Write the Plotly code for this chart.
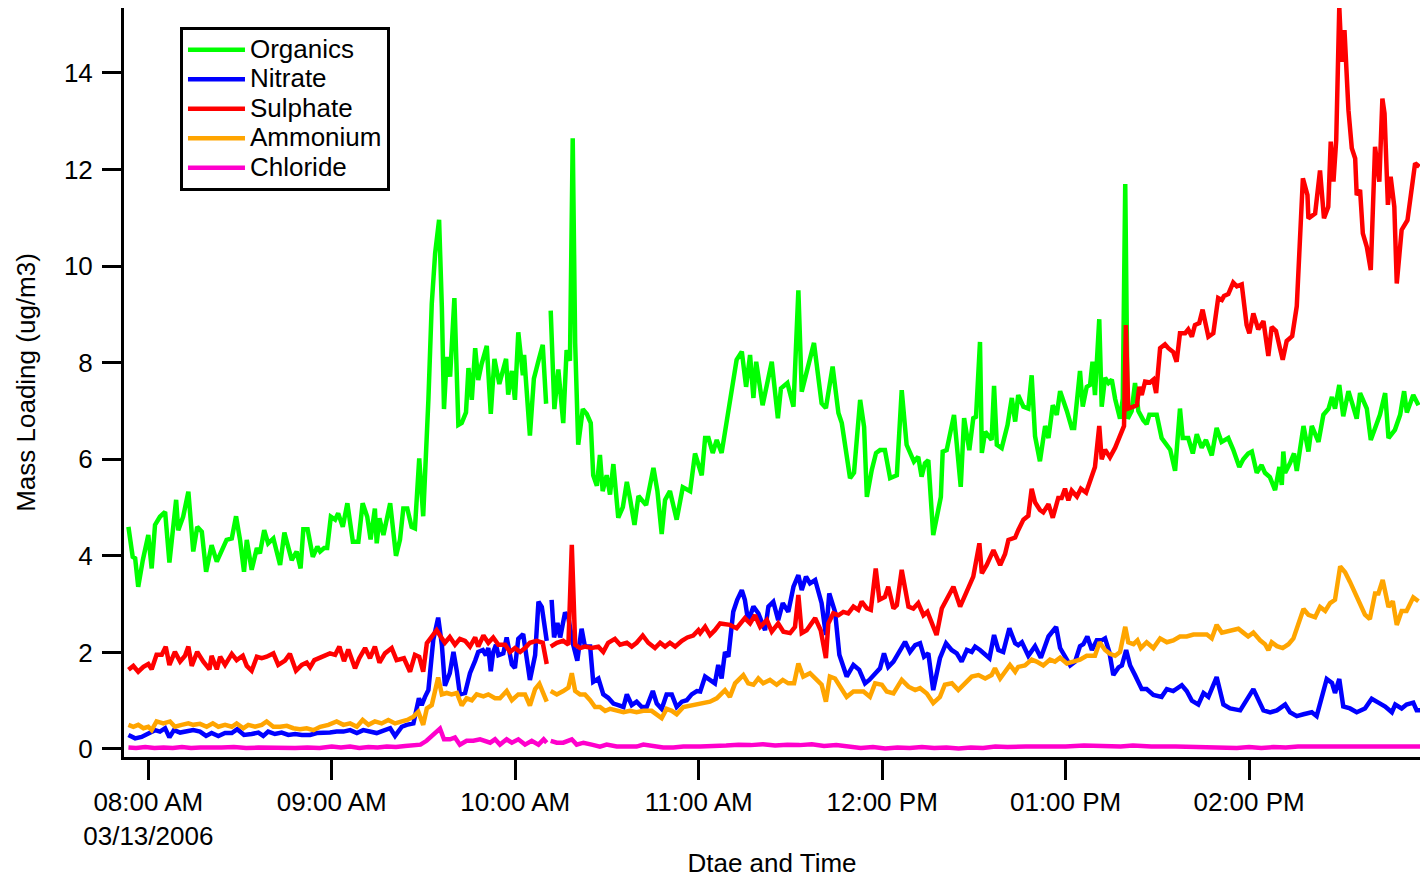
import pandas as pd
import plotly.graph_objects as go

# ---------------- data (time in minutes after 08:00 on 03/13/2006) ----------------
org_t = [
    -6.5, -5.1, -4.3, -3.3, -1.8, 0.0, 1.1, 2.2, 3.8, 5.5,
    6.9, 9.1, 9.8, 11.4, 13.1, 14.7, 16.0, 17.5, 18.9, 20.7,
    22.4, 23.5, 25.6, 27.3, 28.7, 30.0, 31.3, 32.2, 33.8, 35.5,
    36.5, 37.9, 39.2, 40.9, 43.1, 44.5, 46.9, 48.5, 49.8, 50.7,
    52.1, 53.8, 55.3, 56.2, 57.5, 58.5, 59.7, 61.1, 62.1, 63.6,
    65.1, 66.9, 68.7, 70.1, 71.6, 72.7, 74.1, 74.7, 75.6, 76.9,
    79.1, 81.0, 82.3, 83.4, 84.7, 86.1, 87.2, 88.6, 89.9, 91.6,
    92.7, 93.8, 95.1, 96.0, 96.7, 97.6, 98.7, 100.1, 101.4, 102.5,
    103.9, 104.7, 105.8, 106.9, 107.9, 109.0, 110.7, 112.0, 113.2, 114.8,
    117.0, 117.7, 118.9, 119.9, 121.0, 122.5, 122.9, 124.8, 126.1, 127.6,
    129.0, 130.1, 131.0, 131.6, 132.8, 134.1, 135.7, 136.8, 137.9, 138.8,
    139.6, 140.6, 142.1, 143.4, 144.7, 145.5, 146.7, 147.7, 148.6, 149.9,
    151.0, 152.1, 153.7, 155.2, 156.5, 157.5, 159.0, 160.3, 162.8, 165.2,
    166.5, 167.9, 169.0, 170.6, 172.8, 174.8, 177.2, 178.8, 181.0, 182.1,
    183.2, 184.6, 185.9, 187.5, 189.7, 192.4, 194.1, 195.5, 196.8, 197.9,
    198.8, 200.9, 203.9, 205.9, 206.9, 209.0, 211.0, 212.6, 213.7, 217.7,
    220.2, 221.6, 223.8, 225.7, 226.8, 229.5, 230.8, 232.8, 234.1, 235.0,
    236.6, 238.0, 239.3, 240.9, 242.6, 244.8, 246.4, 248.0, 250.4, 251.8,
    252.9, 254.0, 255.1, 256.7, 259.2, 259.8, 261.1, 263.5, 265.7, 266.8,
    268.5, 269.8, 270.7, 272.0, 272.6, 273.7, 275.8, 276.6, 277.5, 279.1,
    281.0, 282.4, 283.5, 284.5, 286.2, 287.8, 288.9, 290.0, 291.6, 293.3,
    294.4, 295.8, 297.1, 298.2, 300.4, 302.0, 302.8, 304.7, 305.6, 306.9,
    308.0, 308.8, 309.6, 311.0, 311.8, 312.9, 314.0, 315.1, 316.2, 317.8,
    318.7, 319.5, 320.3, 321.6, 322.7, 323.8, 325.4, 326.5, 327.4, 329.8,
    331.4, 333.1, 334.2, 335.8, 337.4, 338.3, 340.1, 341.6, 342.9, 344.5,
    345.9, 347.8, 349.4, 351.0, 353.2, 354.8, 356.8, 358.1, 359.7, 360.9,
    362.5, 364.1, 365.2, 366.8, 368.5, 369.9, 370.7, 371.2, 371.8, 373.4,
    374.7, 375.6, 377.8, 379.4, 380.5, 382.7, 384.3, 386.0, 387.1, 388.1,
    389.5, 390.8, 392.5, 393.9, 395.2, 396.3, 398.5, 399.8, 401.2, 402.8,
    404.5, 405.6, 407.7, 409.4, 410.7, 411.6, 413.7, 415.4]
org_v = [
    4.60, 3.98, 3.95, 3.36, 3.91, 4.43, 3.74, 4.64, 4.81, 4.91,
    3.86, 5.16, 4.53, 4.81, 5.33, 4.09, 4.60, 4.50, 3.67, 4.22,
    3.88, 4.05, 4.33, 4.36, 4.82, 4.33, 3.67, 4.33, 3.71, 4.16,
    4.05, 4.53, 4.26, 4.36, 3.81, 4.48, 3.91, 4.09, 3.74, 4.55,
    4.55, 3.98, 4.19, 4.09, 4.16, 4.16, 4.81, 4.75, 4.88, 4.60,
    5.09, 4.29, 4.29, 5.09, 4.81, 4.34, 4.98, 4.26, 4.78, 4.43,
    5.09, 4.00, 4.33, 4.98, 4.98, 4.60, 4.57, 6.02, 4.82, 7.23,
    9.22, 10.26, 10.96, 9.15, 7.04, 8.12, 7.71, 9.34, 6.71, 6.75,
    6.97, 7.89, 7.23, 8.30, 7.64, 7.97, 8.35, 6.94, 8.08, 7.56,
    8.08, 7.34, 7.83, 7.23, 8.63, 7.74, 8.16, 6.49, 7.67, 8.04,
    8.37, 7.15, None, 9.08, 7.04, 7.86, 6.75, 8.26, 8.04, 12.65,
    8.41, 6.30, 7.04, 6.94, 6.75, 5.67, 5.45, 6.09, 5.34, 5.67,
    5.27, 5.90, 4.79, 5.01, 5.53, 5.20, 4.64, 5.24, 5.05, 5.82,
    5.34, 4.45, 5.16, 5.34, 4.75, 5.42, 5.34, 6.12, 5.67, 6.44,
    6.44, 6.13, 6.40, 6.13, 6.96, 8.06, 8.23, 7.50, 8.16, 7.27,
    8.02, 7.12, 8.02, 6.85, 7.47, 7.58, 7.09, 9.50, 7.40, 8.41,
    7.16, 7.06, 7.92, 6.96, 6.75, 5.61, 5.72, 7.23, 6.67, 5.22,
    5.78, 6.13, 6.19, 6.19, 5.61, 5.67, 7.43, 6.30, 5.95, 6.05,
    5.64, 5.92, 5.98, 4.43, 5.22, 6.16, 6.19, 6.92, 5.43, 6.85,
    6.19, 6.85, 6.88, 8.43, 6.13, 6.57, 6.40, 7.52, 6.30, 6.23,
    6.71, 7.27, 6.78, 7.33, 7.09, 7.05, 7.74, 6.48, 5.96, 6.69,
    6.44, 7.12, 6.92, 7.41, 7.00, 6.65, 6.65, 7.83, 7.09, 7.50,
    7.54, 8.02, 7.33, 8.90, 7.09, 7.69, 7.58, 7.65, 7.25, 6.84,
    7.25, 11.70, 6.84, 7.00, 7.58, 7.00, 6.81, 6.73, 6.92, 6.92,
    6.44, 6.28, 6.20, 5.76, 7.05, 6.44, 6.44, 6.12, 6.52, 6.24,
    6.40, 6.08, 6.65, 6.36, 6.44, 6.20, 5.84, 6.00, 6.12, 6.16,
    5.72, 5.88, 5.72, 5.63, 5.36, 5.84, 5.47, 6.16, 5.72, 5.92,
    6.12, 5.76, 6.69, 6.16, 6.69, 6.36, 6.92, 7.05, 7.29, 7.05,
    7.54, 6.89, 7.41, 7.12, 6.84, 7.37, 7.05, 6.40, 6.65, 6.92,
    7.37, 6.44, 6.61, 6.92, 7.41, 6.97, 7.33, 7.12]

nit_t = [
    -6.5, -4.3, -2.2, 0.0, 2.2, 3.8, 5.5, 6.9, 8.4, 10.4,
    12.6, 14.7, 16.9, 18.9, 20.7, 22.9, 25.1, 27.3, 29.1, 31.3,
    33.8, 36.0, 37.6, 39.2, 41.4, 43.6, 45.8, 48.0, 50.2, 52.9,
    55.1, 57.2, 59.4, 61.6, 63.8, 66.0, 68.2, 70.3, 72.5, 74.7,
    76.9, 79.1, 80.7, 82.9, 84.5, 86.7, 88.5, 89.4, 90.5, 91.6,
    93.2, 94.8, 96.0, 97.0, 98.6, 99.8, 100.9, 101.9, 103.6, 105.2,
    106.9, 107.9, 109.4, 110.4, 111.2, 112.0, 112.8, 113.7, 114.5, 116.1,
    117.2, 118.9, 119.9, 121.0, 122.6, 123.8, 124.8, 126.5, 127.6, 128.7,
    130.3, 131.0, 131.9, 132.7, 133.8, 134.7, 136.3, 137.4, 138.8, 140.3,
    141.7, 142.8, 144.5, 145.5, 147.2, 148.8, 150.4, 152.1, 153.7, 155.4,
    156.5, 158.1, 159.7, 161.4, 163.0, 165.0, 166.3, 167.9, 169.5, 171.2,
    172.8, 174.5, 176.1, 177.7, 179.4, 180.5, 182.1, 183.7, 185.3, 186.4,
    187.5, 188.6, 189.7, 191.3, 192.6, 194.1, 195.1, 196.2, 197.9, 199.5,
    201.7, 202.8, 204.4, 206.0, 207.5, 209.3, 211.0, 212.6, 213.7, 215.1,
    216.4, 218.1, 220.2, 221.6, 222.7, 224.6, 226.0, 228.4, 230.6, 232.5,
    234.4, 235.8, 237.7, 239.3, 240.6, 242.0, 243.7, 245.9, 247.5, 249.1,
    250.8, 252.4, 253.7, 255.1, 256.7, 258.9, 260.9, 262.7, 264.4, 266.0,
    267.7, 269.3, 270.4, 272.0, 273.7, 275.1, 276.6, 278.0, 279.6, 281.6,
    283.5, 284.5, 285.7, 287.8, 290.0, 291.9, 294.4, 296.9, 298.2, 300.4,
    301.5, 303.1, 304.7, 305.8, 307.1, 308.6, 310.2, 311.8, 312.9, 314.3,
    315.6, 317.3, 318.4, 319.8, 321.1, 322.7, 324.9, 326.5, 328.7, 331.4,
    333.1, 335.2, 338.0, 339.6, 341.3, 343.4, 345.1, 346.7, 349.4, 351.6,
    353.8, 357.1, 359.3, 361.4, 364.7, 366.9, 369.1, 371.8, 373.4, 375.6,
    377.8, 380.5, 382.1, 383.8, 385.4, 387.1, 388.1, 389.5, 390.8, 393.0,
    395.2, 397.9, 400.1, 402.3, 404.5, 406.7, 407.8, 409.9, 411.5, 413.7,
    414.8, 415.9]
nit_v = [
    0.29, 0.22, 0.25, 0.33, 0.39, 0.36, 0.43, 0.24, 0.39, 0.34,
    0.36, 0.39, 0.36, 0.27, 0.33, 0.27, 0.33, 0.33, 0.41, 0.29,
    0.31, 0.34, 0.27, 0.36, 0.31, 0.34, 0.29, 0.31, 0.29, 0.29,
    0.33, 0.33, 0.34, 0.36, 0.36, 0.39, 0.33, 0.39, 0.36, 0.33,
    0.38, 0.43, 0.27, 0.46, 0.50, 0.53, 1.05, 0.91, 1.08, 1.22,
    2.26, 2.72, 2.16, 1.31, 1.57, 2.01, 1.61, 1.13, 1.16, 1.57,
    1.83, 2.01, 2.05, 1.94, 2.09, 1.61, 2.01, 2.16, 1.94, 1.98,
    2.31, 1.75, 1.68, 2.28, 2.38, 1.83, 1.43, 1.94, 3.05, 2.94,
    2.24, None, 3.09, 2.31, 2.61, 2.31, 2.83, 2.71, 2.20, 1.83,
    2.49, 2.12, 2.12, 1.39, 1.46, 1.13, 1.06, 0.94, 0.91, 0.87,
    1.13, 0.91, 0.98, 0.87, 0.87, 1.20, 0.94, 0.83, 1.13, 1.13,
    0.87, 0.98, 1.01, 1.13, 1.20, 1.19, 1.50, 1.43, 1.36, 1.74,
    1.46, 2.01, 1.91, 2.84, 3.09, 3.29, 3.09, 2.64, 2.95, 2.81,
    2.46, 2.95, 3.05, 2.67, 3.02, 2.84, 3.36, 3.60, 3.29, 3.57,
    3.43, 3.50, 3.02, 2.36, 3.22, 2.84, 1.95, 1.50, 1.74, 1.64,
    1.36, 1.43, 1.57, 1.67, 1.98, 1.70, 1.81, 2.05, 2.22, 2.01,
    2.15, 2.19, 1.91, 1.98, 1.22, 1.88, 2.19, 2.05, 1.98, 1.81,
    2.05, 2.01, 2.12, 2.05, 1.95, 1.88, 2.36, 2.05, 2.01, 2.50,
    2.19, 2.15, 2.21, 1.93, 2.13, 1.89, 2.33, 2.53, 2.09, 1.85,
    1.73, 1.81, 2.13, 2.17, 2.33, 2.05, 2.25, 2.25, 2.29, 2.01,
    1.53, 1.69, 1.73, 2.05, 1.73, 1.53, 1.24, 1.24, 1.12, 1.08,
    1.24, 1.20, 1.32, 1.20, 1.00, 0.92, 1.16, 1.08, 1.49, 0.92,
    0.84, 0.80, 1.04, 1.24, 0.80, 0.76, 0.80, 0.92, 0.76, 0.68,
    0.72, 0.76, 0.68, 1.12, 1.45, 1.37, 1.16, 1.45, 0.88, 0.84,
    0.76, 0.84, 1.04, 0.96, 0.88, 0.76, 0.92, 0.84, 0.92, 0.96,
    0.80, 0.80]

sul_t = [
    -6.5, -4.9, -3.3, -1.6, 0.0, 1.1, 2.7, 4.4, 5.7, 6.9,
    8.7, 10.4, 12.0, 13.1, 14.2, 16.0, 18.0, 20.0, 20.7, 22.4,
    23.5, 25.1, 27.3, 28.9, 30.9, 32.2, 33.8, 35.5, 37.1, 38.7,
    40.9, 42.5, 44.7, 46.3, 48.3, 50.2, 51.8, 52.9, 54.3, 55.9,
    57.2, 59.4, 61.1, 62.5, 64.0, 65.4, 67.6, 69.0, 70.9, 72.5,
    74.1, 75.6, 77.4, 79.6, 81.2, 83.6, 85.6, 87.2, 88.6, 89.9,
    91.1, 92.7, 94.3, 95.4, 97.0, 98.6, 100.3, 101.9, 103.6, 105.2,
    106.9, 107.9, 109.6, 111.2, 112.8, 114.5, 116.7, 118.3, 119.9, 121.6,
    123.2, 124.8, 127.0, 129.0, 130.3, 131.0, 131.6, 133.6, 135.7, 137.4,
    138.5, 139.6, 141.2, 142.8, 145.0, 147.2, 148.8, 150.4, 152.6, 154.3,
    156.5, 158.1, 159.7, 161.7, 163.5, 165.7, 167.4, 169.0, 170.6, 172.3,
    174.5, 176.3, 178.2, 179.9, 180.5, 182.1, 183.7, 185.3, 187.0, 190.2,
    192.4, 195.1, 196.8, 198.4, 200.1, 202.3, 203.9, 206.0, 207.7, 209.9,
    211.5, 212.6, 213.7, 215.3, 218.1, 219.9, 221.6, 222.4, 224.0, 225.7,
    227.3, 228.9, 230.6, 232.2, 233.3, 235.0, 236.3, 237.9, 239.1, 240.9,
    242.0, 243.7, 244.8, 246.4, 248.6, 250.2, 251.8, 253.5, 254.8, 256.7,
    257.8, 259.5, 261.1, 263.3, 265.5, 267.7, 269.8, 271.8, 272.6, 274.2,
    276.4, 278.6, 280.2, 281.3, 283.5, 284.5, 286.2, 287.8, 288.9, 290.0,
    291.6, 292.7, 294.4, 295.8, 297.6, 298.7, 299.8, 300.9, 302.0, 303.7,
    305.0, 306.7, 308.0, 309.6, 311.0, 311.8, 312.9, 314.5, 316.2, 317.8,
    319.1, 319.7, 320.5, 322.2, 323.3, 324.1, 324.9, 326.0, 327.6, 328.7,
    329.6, 330.9, 332.5, 333.6, 335.2, 336.3, 337.4, 339.1, 340.1, 341.3,
    342.3, 343.7, 344.8, 345.6, 346.7, 348.3, 349.2, 349.9, 351.1, 351.8,
    353.2, 354.8, 356.0, 357.6, 359.2, 360.1, 361.4, 363.0, 364.7, 366.3,
    367.4, 368.8, 370.1, 371.0, 372.3, 374.1, 375.6, 377.6, 379.1, 379.4,
    381.6, 383.2, 384.5, 385.9, 386.7, 387.6, 388.5, 389.5, 390.3, 391.2,
    392.5, 393.6, 394.7, 395.2, 396.3, 397.2, 398.5, 399.8, 401.2, 402.6,
    403.6, 404.3, 405.4, 406.3, 407.5, 408.3, 409.9, 411.8, 414.3, 415.7]
sul_v = [
    1.64, 1.72, 1.60, 1.70, 1.76, 1.65, 1.95, 1.95, 2.12, 1.74,
    2.01, 1.81, 1.93, 2.12, 1.72, 2.01, 1.81, 1.65, 1.93, 1.65,
    1.91, 1.74, 1.97, 1.84, 1.93, 1.72, 1.62, 1.91, 1.88, 1.91,
    1.98, 1.74, 1.83, 1.97, 1.62, 1.74, 1.79, 1.69, 1.84, 1.88,
    1.93, 1.98, 1.95, 2.12, 1.82, 2.06, 1.67, 1.88, 2.09, 1.88,
    2.12, 1.79, 1.98, 2.09, 1.84, 1.88, 1.60, 1.95, 1.91, 1.60,
    2.19, 2.34, 2.46, 2.35, 2.20, 2.32, 2.16, 2.28, 2.24, 2.12,
    2.31, 2.12, 2.35, 2.20, 2.31, 2.16, 2.16, 2.01, 2.09, 2.01,
    2.09, 2.20, 2.24, 2.20, 1.76, None, 2.12, 2.20, 2.24, 2.16,
    4.23, 2.16, 2.09, 2.12, 2.09, 2.12, 2.01, 2.20, 2.28, 2.16,
    2.20, 2.12, 2.20, 2.35, 2.20, 2.09, 2.20, 2.12, 2.20, 2.12,
    2.24, 2.31, 2.35, 2.46, 2.40, 2.53, 2.36, 2.46, 2.60, 2.57,
    2.50, 2.71, 2.60, 2.77, 2.53, 2.67, 2.43, 2.60, 2.43, 2.40,
    2.53, 3.19, 2.40, 2.46, 2.71, 2.46, 1.88, 2.60, 2.81, 2.77,
    2.84, 2.81, 2.95, 2.88, 3.05, 2.91, 2.88, 3.74, 3.09, 3.15,
    3.36, 2.91, 2.98, 3.71, 2.95, 2.91, 3.02, 2.77, 2.84, 2.53,
    2.36, 2.91, 3.09, 3.36, 2.95, 3.26, 3.57, 4.26, 3.64, 3.81,
    4.12, 3.81, 4.04, 4.33, 4.38, 4.53, 4.75, 4.83, 5.39, 5.11,
    4.95, 4.90, 5.07, 4.79, 5.20, 5.20, 5.39, 5.15, 5.35, 5.23,
    5.39, 5.31, 5.56, 5.84, 6.69, 6.00, 6.20, 6.04, 6.24, 6.52,
    6.69, 8.78, 7.05, 7.09, 7.12, 7.50, 7.33, 7.61, 7.59, 7.65,
    7.37, 8.30, 8.38, 8.30, 8.22, 8.02, 8.61, 8.61, 8.69, 8.54,
    8.78, 8.82, 9.10, 8.86, 8.54, 8.61, 9.02, 9.34, 9.30, 9.38,
    9.42, 9.66, 9.58, 9.62, 8.78, 8.61, 9.02, 8.69, 8.86, 8.14,
    8.74, 8.66, 8.30, 8.06, 8.45, 8.55, 9.17, 11.82, 11.47, 10.99,
    11.09, 11.98, 10.99, 11.23, 12.58, 11.75, 12.61, 15.37, 14.23, 14.89,
    13.23, 12.44, 12.23, 11.47, 11.58, 10.68, 10.40, 9.92, 12.47, 11.75,
    13.47, 13.16, 11.27, 11.85, 11.23, 9.64, 10.75, 10.95, 12.13, 12.06]

amm_t = [
    -6.5, -4.9, -3.3, -1.6, 0.0, 1.1, 2.7, 4.9, 7.1, 8.7,
    10.9, 13.1, 14.7, 16.9, 19.1, 21.1, 22.9, 25.1, 27.3, 28.9,
    31.1, 32.7, 34.9, 37.1, 38.7, 40.9, 43.1, 45.3, 47.4, 49.6,
    51.8, 54.0, 56.2, 58.9, 61.6, 63.8, 66.0, 68.2, 70.1, 72.0,
    74.1, 76.3, 78.5, 80.7, 82.9, 84.7, 86.7, 88.3, 89.9, 91.1,
    92.7, 94.8, 96.0, 97.6, 99.2, 100.9, 102.5, 104.1, 105.8, 107.4,
    109.6, 111.2, 113.4, 115.0, 117.2, 118.9, 121.0, 123.2, 124.8, 126.5,
    127.9, 129.0, 130.3, 131.0, 131.6, 133.6, 135.7, 137.4, 138.5, 139.6,
    141.2, 142.8, 144.5, 146.1, 147.7, 149.4, 151.0, 153.2, 155.4, 157.5,
    159.7, 161.9, 164.6, 167.9, 169.5, 171.2, 172.8, 175.0, 177.2, 179.4,
    180.5, 183.7, 185.9, 188.6, 190.2, 191.9, 194.6, 196.2, 197.9, 199.5,
    201.1, 203.3, 205.5, 207.5, 209.3, 211.2, 212.6, 214.2, 216.4, 218.6,
    220.2, 221.6, 222.9, 224.6, 226.2, 228.4, 230.6, 233.9, 236.0, 237.7,
    239.9, 241.5, 243.7, 246.4, 248.6, 250.8, 252.4, 254.6, 256.7, 258.9,
    260.5, 262.8, 264.9, 267.1, 269.3, 271.5, 273.7, 275.8, 276.9, 278.6,
    280.2, 281.8, 283.5, 284.5, 286.7, 288.9, 290.5, 292.7, 294.9, 296.5,
    298.2, 300.4, 302.5, 304.7, 306.9, 309.6, 311.1, 312.9, 314.5, 316.2,
    317.8, 319.5, 320.5, 322.2, 323.5, 324.6, 326.5, 328.7, 330.9, 333.1,
    335.2, 337.4, 339.6, 341.8, 344.0, 346.2, 347.8, 349.4, 351.1, 353.8,
    356.5, 358.1, 359.7, 361.4, 363.6, 365.2, 366.3, 367.4, 369.1, 371.0,
    372.9, 374.5, 376.1, 377.8, 379.4, 381.6, 383.2, 384.9, 386.5, 388.1,
    389.8, 391.4, 393.0, 394.7, 396.3, 397.9, 399.5, 401.2, 402.3, 403.7,
    405.6, 407.0, 408.3, 409.9, 411.5, 413.7, 415.4]
amm_v = [
    0.50, 0.46, 0.50, 0.43, 0.46, 0.39, 0.57, 0.53, 0.57, 0.46,
    0.50, 0.53, 0.50, 0.52, 0.46, 0.53, 0.46, 0.50, 0.46, 0.53,
    0.43, 0.50, 0.46, 0.50, 0.57, 0.46, 0.46, 0.48, 0.43, 0.41,
    0.43, 0.39, 0.46, 0.50, 0.57, 0.50, 0.53, 0.46, 0.60, 0.50,
    0.57, 0.53, 0.60, 0.53, 0.57, 0.60, 0.67, 0.77, 0.50, 0.84,
    0.91, 1.48, 1.13, 1.16, 1.13, 1.16, 0.90, 1.05, 1.01, 1.13,
    1.09, 1.13, 1.05, 1.05, 1.20, 1.01, 1.13, 1.13, 0.90, 1.24,
    1.35, 1.20, 0.98, None, 1.20, 1.13, 1.20, 1.27, 1.57, 1.20,
    1.13, 1.13, 1.01, 0.87, 0.87, 0.79, 0.83, 0.79, 0.76, 0.79,
    0.76, 0.79, 0.79, 0.64, 0.83, 0.79, 0.72, 0.87, 0.90, 0.94,
    0.95, 0.98, 1.05, 1.22, 1.08, 1.36, 1.53, 1.36, 1.33, 1.46,
    1.36, 1.43, 1.33, 1.43, 1.36, 1.36, 1.77, 1.50, 1.57, 1.43,
    1.33, 0.98, 1.50, 1.46, 1.29, 1.08, 1.19, 1.19, 1.08, 1.36,
    1.33, 1.19, 1.15, 1.43, 1.29, 1.22, 1.26, 1.15, 0.95, 1.08,
    1.33, 1.36, 1.22, 1.36, 1.50, 1.53, 1.46, 1.53, 1.67, 1.46,
    1.60, 1.74, 1.60, 1.70, 1.73, 1.85, 1.81, 1.73, 1.85, 1.81,
    1.89, 1.77, 1.81, 1.85, 1.93, 1.93, 2.21, 2.05, 1.97, 1.93,
    2.01, 2.53, 2.21, 2.17, 2.25, 2.09, 2.21, 2.09, 2.29, 2.21,
    2.25, 2.33, 2.33, 2.37, 2.37, 2.37, 2.29, 2.57, 2.41, 2.45,
    2.49, 2.41, 2.33, 2.41, 2.25, 2.17, 2.05, 2.21, 2.13, 2.09,
    2.17, 2.29, 2.61, 2.90, 2.78, 2.73, 2.94, 2.86, 3.02, 3.09,
    3.78, 3.66, 3.46, 3.22, 2.98, 2.78, 2.69, 3.22, 3.22, 3.50,
    2.94, 3.06, 2.57, 2.86, 2.86, 3.14, 3.06]

chl_t = [
    -6.5, -4.0, -1.0, 2.0, 5.0, 8.0, 11.0, 14.0, 17.0, 20.0,
    24.0, 28.0, 32.0, 36.0, 40.0, 44.0, 48.0, 52.0, 56.0, 60.0,
    63.0, 66.0, 69.0, 72.0, 75.0, 78.0, 81.0, 84.0, 87.0, 89.0,
    91.0, 93.0, 95.4, 96.7, 98.7, 100.3, 101.9, 104.1, 106.3, 108.5,
    110.2, 111.8, 113.4, 115.0, 117.2, 118.9, 121.0, 123.2, 125.4, 127.6,
    129.3, 130.3, 131.0, 131.6, 133.6, 135.7, 138.5, 140.1, 142.3, 145.0,
    147.7, 149.9, 153.2, 156.5, 159.7, 161.9, 165.2, 168.4, 171.7, 175.0,
    180.5, 186.5, 189.0, 193.0, 197.0, 201.0, 205.0, 209.0, 213.0, 217.0,
    221.0, 225.0, 229.0, 233.0, 237.0, 241.0, 245.0, 249.0, 253.0, 257.0,
    261.0, 265.0, 269.0, 273.0, 277.0, 281.0, 287.0, 293.0, 300.0, 306.0,
    312.0, 318.0, 322.0, 328.0, 336.0, 344.0, 350.0, 356.0, 360.0, 364.0,
    368.0, 372.0, 376.0, 384.0, 396.0, 408.0, 416.0]
chl_v = [
    0.03, 0.02, 0.04, 0.02, 0.03, 0.02, 0.04, 0.02, 0.03, 0.02,
    0.03, 0.04, 0.02, 0.03, 0.02, 0.03, 0.02, 0.03, 0.02, 0.05,
    0.03, 0.05, 0.02, 0.04, 0.03, 0.05, 0.04, 0.06, 0.09, 0.09,
    0.17, 0.28, 0.42, 0.20, 0.20, 0.24, 0.09, 0.17, 0.17, 0.20,
    0.17, 0.13, 0.20, 0.09, 0.20, 0.13, 0.20, 0.09, 0.17, 0.09,
    0.20, 0.13, None, 0.17, 0.13, 0.13, 0.20, 0.09, 0.13, 0.09,
    0.05, 0.09, 0.05, 0.05, 0.05, 0.09, 0.05, 0.03, 0.03, 0.05,
    0.05, 0.05, 0.07, 0.09, 0.08, 0.10, 0.07, 0.09, 0.08, 0.10,
    0.06, 0.08, 0.04, 0.02, 0.04, 0.01, 0.03, 0.02, 0.04, 0.02,
    0.03, 0.01, 0.03, 0.02, 0.05, 0.04, 0.05, 0.04, 0.05, 0.07,
    0.05, 0.05, 0.07, 0.05, 0.05, 0.04, 0.05, 0.02, 0.04, 0.02,
    0.04, 0.03, 0.05, 0.05, 0.05, 0.05, 0.05]

series_names = ["Organics", "Nitrate", "Sulphate", "Ammonium", "Chloride"]

tick_minutes = [0, 60, 120, 180, 240, 300, 360]
tick_labels = ["08:00 AM<br>03/13/2006", "09:00 AM", "10:00 AM", "11:00 AM",
               "12:00 PM", "01:00 PM", "02:00 PM"]
y_ticks = [0, 2, 4, 6, 8, 10, 12, 14]
x_range_minutes = [-7.95, 415.9]
y_range = [-0.166, 15.346]

# ---------------- styling ----------------
COLORS = ["#00FF00", "#0000FF", "#FF0000", "#FFA500", "#FF00CC"]
FONT = "Liberation Sans, Arial, Helvetica, sans-serif"
BASE = pd.Timestamp("2006-03-13 08:00:00")


def to_time(mins):
    return [BASE + pd.Timedelta(minutes=m) for m in mins]


data = [(org_t, org_v), (nit_t, nit_v), (sul_t, sul_v), (amm_t, amm_v), (chl_t, chl_v)]

fig = go.Figure()
for name, (t, v), col in zip(series_names, data, COLORS):
    n = min(len(t), len(v))
    fig.add_trace(go.Scatter(
        x=to_time(t[:n]), y=v[:n], mode="lines",
        name='<span style="font-size:26px">' + name + '</span>',
        line=dict(color=col, width=4.5), connectgaps=False,
    ))

xr = to_time(x_range_minutes)
fig.update_layout(
    width=1420, height=878,
    margin=dict(l=124, r=0, t=8, b=121),
    paper_bgcolor="white", plot_bgcolor="white",
    font=dict(family=FONT, size=26, color="black"),
    showlegend=True,
    legend=dict(
        x=0.0432, y=0.9746, xanchor="left", yanchor="top",
        bgcolor="white", bordercolor="black", borderwidth=3,
        font=dict(family=FONT, size=20.4, color="black"),
        tracegroupgap=0, itemwidth=57,
    ),
    xaxis=dict(
        type="date", range=[xr[0], xr[1]], automargin=False,
        tickmode="array", tickvals=to_time(tick_minutes), ticktext=tick_labels,
        showline=True, linecolor="black", linewidth=3,
        ticks="outside", ticklen=20, tickwidth=3, tickcolor="black",
        showgrid=False, zeroline=False,
        tickfont=dict(family=FONT, size=26, color="black"),
        title=dict(text="Dtae and Time", font=dict(family=FONT, size=26, color="black"), standoff=21),
    ),
    yaxis=dict(
        range=y_range, automargin=False,
        tickmode="array", tickvals=y_ticks,
        showline=True, linecolor="black", linewidth=3,
        ticks="outside", ticklen=19, tickwidth=3, tickcolor="black",
        showgrid=False, zeroline=False, ticklabelstandoff=4,
        tickfont=dict(family=FONT, size=26, color="black"),
        title=dict(text="Mass Loading (ug/m3)", font=dict(family=FONT, size=26, color="black"), standoff=21),
    ),
)

# remove the default page margin so the 1420x878 figure fills the window exactly
fig.write_html(
    "out.html",
    config={"displayModeBar": False},
    post_script="document.body.style.margin='0';document.body.style.overflow='hidden';",
)
